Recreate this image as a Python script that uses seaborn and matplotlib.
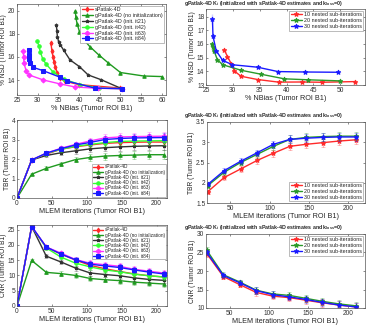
import numpy as np
import pandas as pd
import matplotlib
matplotlib.use("Agg")
import matplotlib.pyplot as plt
import seaborn as sns

# ----------------------------
# DATA
# ----------------------------
iters = [0, 21, 42, 63, 84, 105, 126, 147, 168, 189, 210]
iters_g = [21, 42, 63, 84, 105, 126, 147, 168, 189, 210]

names6 = ["sPatlak-4D", "gPatlak-4D (no initialization)", "gPatlak-4D (init. it21)",
          "gPatlak-4D (init. it42)", "gPatlak-4D (init. it63)", "gPatlak-4D (init. it84)"]
colors6 = ["#ff2a2a", "#1f9a1f", "#333333", "#33ff33", "#ff33ff", "#1a1aff"]
markers6 = ["d", "^", "*", "o", "D", "s"]

names3 = ["10 nested sub-iterations", "20 nested sub-iterations", "30 nested sub-iterations"]
colors3 = ["#ff2a2a", "#2a9a2a", "#1a1aff"]

# panel 1: NBias vs NSD
nbias_s = [50.0, 40.0, 36.5, 35.3, 34.7, 34.3, 33.95, 33.7, 33.45, 33.2]
nsd_s = [13.3, 13.6, 13.9, 14.2, 14.65, 15.1, 15.55, 16.0, 16.5, 17.2]
nbias_noinit = [60.0, 55.6, 50.0, 47.0, 44.7, 42.6, 40.9, 40.1, 39.5, 39.2, 39.1]
nsd_noinit = [14.3, 14.35, 14.65, 15.5, 16.2, 16.9, 17.6, 18.2, 18.9, 19.5, 20.0]
nbias_21 = [50.3, 45.3, 42.2, 40.1, 37.8, 36.3, 35.5, 35.05, 34.75, 34.65, 34.5]
nsd_21 = [13.25, 14.03, 14.44, 15.16, 15.75, 16.58, 17.03, 17.33, 17.77, 18.22, 18.8]
nbias_42 = [50.3, 44.9, 40.3, 36.4, 33.7, 32.0, 31.2, 30.65, 30.3, 29.9]
nsd_42 = [13.25, 13.3, 13.6, 14.06, 14.7, 15.4, 15.84, 16.43, 16.94, 17.4]
nbias_63 = [50.3, 44.5, 39.0, 35.3, 31.4, 27.9, 27.2, 26.7, 26.6, 26.5]
nsd_63 = [13.25, 13.28, 13.4, 13.67, 14.0, 14.44, 14.8, 15.45, 15.99, 16.52]
nbias_84 = [50.3, 43.8, 37.2, 35.3, 31.4, 28.9, 28.2, 27.95, 27.85, 27.8]
nsd_84 = [13.25, 13.3, 13.9, 14.26, 14.8, 15.1, 15.5, 15.85, 16.2, 16.64]

# panel 2: NBias vs NSD, nested sub-iterations
nbias_10 = [52.8, 46.6, 42.8, 38.5, 34.6, 31.5, 30.3, 29.7, 29.0, 28.4]
nsd_10 = [13.25, 13.2, 13.22, 13.21, 13.4, 13.64, 14.02, 14.55, 15.07, 15.57]
nbias_20 = [50.0, 44.0, 39.6, 35.2, 31.6, 28.1, 27.1, 26.5, 26.3, 26.2]
nsd_20 = [13.3, 13.38, 13.45, 13.79, 14.07, 14.48, 14.86, 15.5, 15.75, 15.98]
nbias_30 = [49.6, 43.4, 38.4, 34.6, 29.9, 28.1, 26.9, 26.3, 26.2, 26.2]
nsd_30 = [13.93, 13.95, 13.98, 14.3, 14.48, 14.8, 15.5, 16.57, 17.45, 18.15]

# panel 3: TBR vs iterations
tbr_s = [0, 1.95, 2.25, 2.5, 2.63, 2.72, 2.8, 2.84, 2.86, 2.87, 2.87]
tbr_noinit = [0, 1.22, 1.52, 1.75, 1.97, 2.08, 2.15, 2.18, 2.2, 2.22, 2.22]
tbr_21 = [0, 1.95, 2.18, 2.32, 2.42, 2.52, 2.58, 2.62, 2.65, 2.67, 2.68]
tbr_42 = [0, 1.95, 2.28, 2.5, 2.65, 2.75, 2.84, 2.9, 2.92, 2.93, 2.94]
tbr_63 = [0, 1.95, 2.3, 2.55, 2.75, 2.93, 3.08, 3.13, 3.15, 3.16, 3.17]
tbr_84 = [0, 1.95, 2.3, 2.53, 2.72, 2.85, 3.0, 3.05, 3.08, 3.09, 3.1]
tbr_err = [0, 0.06, 0.1, 0.12, 0.14, 0.16, 0.18, 0.19, 0.2, 0.21, 0.22]

# panel 4: TBR, nested sub-iterations
tbr_10 = [1.78, 2.13, 2.34, 2.55, 2.73, 2.9, 2.95, 2.99, 3.03, 3.06]
tbr_20 = [1.93, 2.26, 2.5, 2.7, 2.9, 3.07, 3.12, 3.14, 3.15, 3.15]
tbr_30 = [1.96, 2.3, 2.53, 2.74, 2.95, 3.07, 3.1, 3.12, 3.13, 3.13]
tbr_err_g = [0.05, 0.06, 0.07, 0.08, 0.09, 0.1, 0.1, 0.1, 0.1, 0.1]

# panel 5: CNR vs iterations
cnr_s = [0, 26, 19.2, 17.0, 15.0, 13.3, 12.2, 11.3, 10.5, 9.9, 9.5]
cnr_noinit = [0, 14.9, 11.0, 10.6, 10.0, 9.0, 8.6, 8.3, 7.8, 7.5, 7.2]
cnr_21 = [0, 26, 16.3, 14.4, 12.4, 10.8, 10.3, 9.9, 9.2, 8.7, 8.4]
cnr_42 = [0, 26, 19.0, 16.0, 14.0, 12.8, 11.8, 11.2, 10.4, 9.9, 9.5]
cnr_63 = [0, 26, 19.3, 17.3, 15.2, 14.0, 13.5, 13.0, 12.0, 11.4, 10.8]
cnr_84 = [0, 26, 19.3, 17.0, 15.1, 13.7, 13.1, 12.6, 11.8, 11.1, 10.5]
cnr_err = [0, 0.4, 0.6, 0.7, 0.8, 0.9, 0.9, 1.0, 1.0, 1.0, 1.0]

# panel 6: CNR, nested sub-iterations
cnr_10 = [24.7, 18.5, 16.3, 14.2, 13.2, 12.8, 12.1, 11.4, 10.8, 10.3]
cnr_20 = [25.6, 19.0, 17.0, 14.8, 13.8, 13.4, 12.6, 11.8, 11.1, 10.6]
cnr_30 = [25.0, 18.8, 16.8, 14.7, 13.6, 13.0, 12.3, 11.5, 10.8, 10.3]
cnr_err_g = [0.8, 0.6, 0.7, 0.9, 0.9, 0.9, 0.9, 1.0, 1.0, 1.0]

# ----------------------------
# STYLE
# ----------------------------
sns.set_style("ticks", {"xtick.direction": "in", "ytick.direction": "in"})
plt.rcParams["font.family"] = ["Liberation Sans", "DejaVu Sans"]
plt.rcParams["axes.linewidth"] = 0.5
plt.rcParams["axes.edgecolor"] = "#555555"
plt.rcParams["xtick.major.size"] = 1.5
plt.rcParams["ytick.major.size"] = 1.5
plt.rcParams["xtick.major.width"] = 0.4
plt.rcParams["ytick.major.width"] = 0.4
plt.rcParams["xtick.major.pad"] = 1.5
plt.rcParams["ytick.major.pad"] = 1.2

W, H = 367, 326
fig = plt.figure(figsize=(W / 100, H / 100), dpi=100)


def box(l, r, t, b):
    return fig.add_axes([l / W, 1 - b / H, (r - l) / W, (b - t) / H])


TITLE = r"gPatlak-4D K$_\mathregular{i}$ (initialized with sPatlak-4D estimates and k$_\mathregular{loss}$=0)"


def finish(ax, xlabel, ylabel, loc, title_y=None, lfs=3.9):
    for s in ax.spines.values():
        s.set_visible(True)
    ax.tick_params(labelsize=4.8, top=True, right=True, colors="#333333")
    ax.set_xlabel(xlabel, fontsize=5.2, labelpad=1)
    ax.set_ylabel(ylabel, fontsize=4.8, labelpad=0.5)
    if title_y is not None:
        fig.text(184 / W, 1 - title_y / H, TITLE, fontsize=3.75,
                 fontweight="bold", ha="left", va="center")
    small = lfs < 3.9
    leg = ax.legend(loc=loc, fontsize=lfs, frameon=True, fancybox=False,
                    framealpha=1, edgecolor="#888888",
                    borderpad=0.2 if small else 0.3,
                    handlelength=2.0, handletextpad=0.4,
                    labelspacing=0.05 if small else 0.15, borderaxespad=0.3)
    leg.get_frame().set_linewidth(0.4)


def line(ax, x, y, color, marker, label, ms=2.5, err=None):
    if err is not None:
        ax.errorbar(x, y, yerr=err, fmt="none", ecolor=color, alpha=0.35,
                    elinewidth=0.8, capsize=1.5, capthick=0.6)
    sns.lineplot(x=x, y=y, ax=ax, color=color, marker=marker, markersize=ms,
                 markeredgecolor=color, linewidth=1.0, label=label, sort=False)


# ----------------------------
# PANEL 1
# ----------------------------
ax1 = box(17, 166, 4, 95)
p1 = [(nbias_s, nsd_s), (nbias_noinit, nsd_noinit), (nbias_21, nsd_21),
      (nbias_42, nsd_42), (nbias_63, nsd_63), (nbias_84, nsd_84)]
for (x, y), c, m, n in zip(p1, colors6, markers6, names6):
    line(ax1, x, y, c, m, n)
ax1.set_xlim(25, 61)
ax1.set_ylim(12.7, 20.6)
ax1.set_xticks([25, 30, 35, 40, 45, 50, 55, 60])
ax1.set_yticks([14, 16, 18, 20])
finish(ax1, "% NBias (Tumor ROI B1)", "% NSD (Tumor ROI B1)", "upper right")

# ----------------------------
# PANEL 2
# ----------------------------
ax2 = box(206, 365, 9, 85)
p2 = [(nbias_10, nsd_10), (nbias_20, nsd_20), (nbias_30, nsd_30)]
for (x, y), c, n in zip(p2, colors3, names3):
    line(ax2, x, y, c, "*", n, ms=3.5)
ax2.set_xlim(25, 54.6)
ax2.set_ylim(13, 18.55)
ax2.set_xticks([25, 30, 35, 40, 45, 50])
ax2.set_yticks([13, 14, 15, 16, 17, 18])
finish(ax2, "% NBias (Tumor ROI B1)", "% NSD (Tumor ROI B1)", "upper right", title_y=4)

# ----------------------------
# PANEL 3
# ----------------------------
ax3 = box(17, 167, 120, 198)
for y, c, m, n in zip([tbr_s, tbr_noinit, tbr_21, tbr_42, tbr_63, tbr_84],
                      colors6, markers6, names6):
    line(ax3, iters, y, c, m, n, err=tbr_err)
ax3.set_xlim(0, 215)
ax3.set_ylim(0, 4)
ax3.set_xticks([0, 50, 100, 150, 200])
ax3.set_yticks([0, 1, 2, 3, 4])
finish(ax3, "MLEM iterations (Tumor ROI B1)", "TBR (Tumor ROI B1)", "lower right", lfs=3.4)

# ----------------------------
# PANEL 4
# ----------------------------
ax4 = box(207, 365, 122, 203)
for y, c, n in zip([tbr_10, tbr_20, tbr_30], colors3, names3):
    line(ax4, iters_g, y, c, "*", n, ms=3.5, err=tbr_err_g)
ax4.set_xlim(20, 222)
ax4.set_ylim(1.5, 3.5)
ax4.set_xticks([50, 100, 150, 200])
ax4.set_yticks([1.5, 2, 2.5, 3, 3.5])
ax4.set_yticklabels(["1.5", "2", "2.5", "3", "3.5"])
finish(ax4, "MLEM iterations (Tumor ROI B1)", "TBR (Tumor ROI B1)", "lower right", title_y=116)

# ----------------------------
# PANEL 5
# ----------------------------
ax5 = box(17, 167, 225, 306)
for y, c, m, n in zip([cnr_s, cnr_noinit, cnr_21, cnr_42, cnr_63, cnr_84],
                      colors6, markers6, names6):
    line(ax5, iters, y, c, m, n, err=cnr_err)
ax5.set_xlim(0, 215)
ax5.set_ylim(0, 26.5)
ax5.set_xticks([0, 50, 100, 150, 200])
ax5.set_yticks([0, 5, 10, 15, 20, 25])
finish(ax5, "MLEM iterations (Tumor ROI B1)", "CNR (Tumor ROI B1)", "upper right", lfs=3.4)

# ----------------------------
# PANEL 6
# ----------------------------
ax6 = box(206, 365, 234, 308)
for y, c, n in zip([cnr_10, cnr_20, cnr_30], colors3, names3):
    line(ax6, iters_g, y, c, "*", n, ms=3.5, err=cnr_err_g)
ax6.set_xlim(20, 222)
ax6.set_ylim(10, 30)
ax6.set_xticks([50, 100, 150, 200])
ax6.set_yticks([10, 15, 20, 25, 30])
finish(ax6, "MLEM iterations (Tumor ROI B1)", "CNR (Tumor ROI B1)", "upper right", title_y=228)

fig.savefig("out.png", dpi=100, facecolor="white")
